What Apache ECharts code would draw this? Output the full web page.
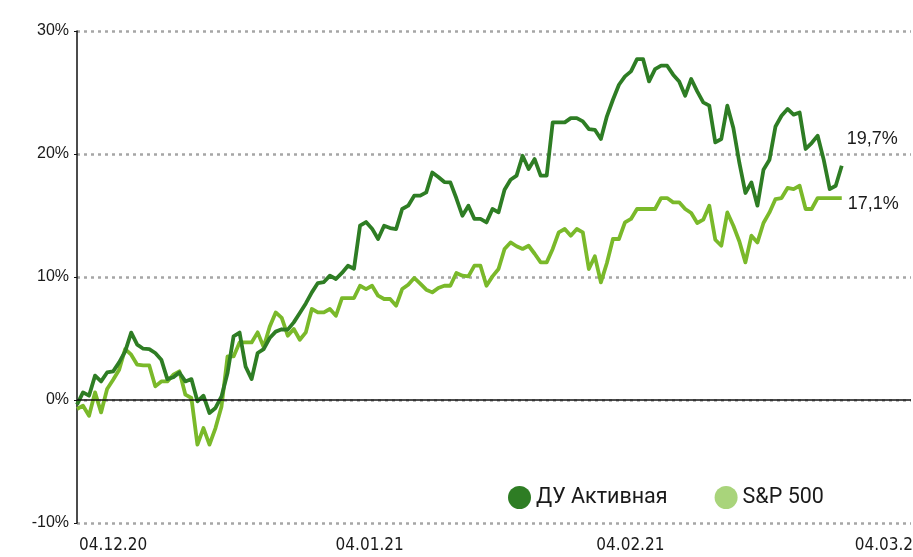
<!DOCTYPE html>
<html>
<head>
<meta charset="utf-8">
<script src="https://cdn.jsdelivr.net/npm/echarts@6/dist/echarts.min.js"></script>
<style>
  html, body { margin: 0; padding: 0; background: #fff; }
  #chart { width: 913px; height: 557px; }
</style>
</head>
<body>
<div id="chart"></div>
<script>
// доходность, % (точки графика по порядку)
var activeFund = [
  -0.38, 0.62, 0.35, 1.98, 1.51, 2.24, 2.33, 3.06, 3.95, 5.48,
  4.50, 4.17, 4.14, 3.82, 3.28, 1.70, 1.85, 2.24, 1.51, 1.70,
  -0.11, 0.35, -1.06, -0.65, 0.29, 2.19, 5.17, 5.48, 2.71, 1.70,
  3.82, 4.14, 5.04, 5.56, 5.75, 5.72, 6.31, 7.07, 7.85, 8.75,
  9.51, 9.59, 10.11, 9.84, 10.33, 10.92, 10.67, 14.17, 14.47, 13.93,
  13.09, 14.17, 13.98, 13.90, 15.53, 15.80, 16.61, 16.61, 16.88, 18.50,
  18.13, 17.72, 17.69, 16.40, 14.98, 15.80, 14.72, 14.72, 14.44, 15.53,
  15.26, 17.10, 17.91, 18.24, 19.86, 18.78, 19.59, 18.24, 18.24, 22.57,
  22.57, 22.57, 22.92, 22.92, 22.65, 22.03, 21.97, 21.22, 23.06, 24.41,
  25.63, 26.31, 26.72, 27.72, 27.72, 25.90, 26.90, 27.18, 27.18, 26.45,
  25.90, 24.74, 26.10, 25.09, 24.20, 23.93, 20.94, 21.22, 23.93, 22.11,
  19.27, 16.83, 17.69, 15.80, 18.72, 19.54, 22.24, 23.11, 23.66, 23.20,
  23.38, 20.41, 20.89, 21.49, 19.54, 17.15, 17.42, 19.05
];
var sp500 = [
  -0.73, -0.46, -1.28, 0.62, -1.01, 0.89, 1.65, 2.46, 4.14, 3.68,
  2.87, 2.81, 2.81, 1.11, 1.51, 1.51, 2.06, 2.33, 0.43, 0.16,
  -3.63, -2.28, -3.63, -2.28, -0.52, 3.54, 3.54, 4.68, 4.68, 4.68,
  5.50, 4.30, 5.95, 7.12, 6.67, 5.23, 5.77, 4.90, 5.50, 7.40,
  7.12, 7.12, 7.40, 6.85, 8.29, 8.29, 8.29, 9.29, 9.02, 9.29,
  8.48, 8.21, 8.21, 7.67, 9.02, 9.37, 9.92, 9.46, 8.97, 8.75,
  9.11, 9.29, 9.29, 10.33, 10.11, 10.05, 10.92, 10.92, 9.29, 10.05,
  10.65, 12.28, 12.81, 12.50, 12.28, 12.54, 11.89, 11.19, 11.19, 12.28,
  13.63, 13.90, 13.36, 13.90, 13.63, 10.65, 11.68, 9.56, 11.14, 13.09,
  13.09, 14.44, 14.72, 15.53, 15.53, 15.53, 15.53, 16.42, 16.42, 16.07,
  16.07, 15.53, 15.20, 14.39, 14.66, 15.80, 13.03, 12.54, 15.25, 14.17,
  12.89, 11.19, 13.36, 12.81, 14.39, 15.25, 16.34, 16.42, 17.24, 17.15,
  17.42, 15.53, 15.53, 16.42, 16.42, 16.42, 16.42, 16.42
];
var seriesNames = ['ДУ Активная', 'S&P 500'];
var endLabels = ['19,7%', '17,1%'];
// подписи дат и их положение на оси (номер точки)
var dateTicks = [6, 48.6, 91.9, 134.8];
var dateLabels = ['04.12.20', '04.01.21', '04.02.21', '04.03.21'];

function toPoints(arr) {
    var out = [];
    for (var i = 0; i < arr.length; i++) {
        out.push([i, arr[i]]);
    }
    return out;
}

var myChart = echarts.init(document.getElementById('chart'));

var option = {
    animation: false,
    grid: {left: 77, right: 2, top: 31, bottom: 34, outerBoundsMode: 'none', containLabel: false},
    legend: {
        left: 503,
        top: 481,
        icon: 'circle',
        itemWidth: 23,
        itemHeight: 23,
        itemGap: 47,
        textStyle: {fontFamily: 'Roboto', fontSize: 21.5, color: '#1a1a1a'},
        data: [
            {name: seriesNames[0], itemStyle: {color: '#2e7d24'}},
            {name: seriesNames[1], itemStyle: {color: '#a9d47b'}}
        ]
    },
    xAxis: {
        type: 'value',
        min: 0,
        max: 138.5,
        axisLine: {show: false},
        axisTick: {show: false},
        splitLine: {show: false},
        axisLabel: {
            customValues: dateTicks,
            margin: 14,
            fontFamily: '"DejaVu Sans Condensed", "Liberation Sans", sans-serif',
            fontSize: 17,
            color: '#1a1a1a',
            formatter: function (val) {
                for (var i = 0; i < dateTicks.length; i++) {
                    if (Math.abs(dateTicks[i] - val) < 0.01) return dateLabels[i];
                }
                return '';
            }
        }
    },
    yAxis: {
        type: 'value',
        min: -10,
        max: 30,
        interval: 10,
        axisLine: {show: true, lineStyle: {color: '#111', width: 1.5}},
        axisTick: {show: true, length: 3, lineStyle: {color: '#111'}},
        axisLabel: {
            margin: 8,
            fontFamily: 'Liberation Sans',
            fontSize: 16,
            color: '#1a1a1a',
            formatter: '{value}%'
        },
        splitLine: {
            show: true,
            lineStyle: {color: '#a6a6a6', type: [3, 4], width: 2.5}
        }
    },
    series: [
        {
            // линия нуля
            type: 'line',
            data: [],
            z: 1,
            silent: true,
            markLine: {
                silent: true,
                symbol: 'none',
                label: {show: false},
                lineStyle: {color: '#111', type: 'solid', width: 1.5},
                data: [{yAxis: 0}]
            }
        },
        {
            name: seriesNames[0],
            type: 'line',
            data: toPoints(activeFund),
            showSymbol: false,
            symbol: 'none',
            z: 4,
            lineStyle: {color: '#2e7d24', width: 3.8, join: 'round'},
            itemStyle: {color: '#2e7d24'},
            endLabel: {
                show: true,
                formatter: endLabels[0],
                offset: [-3, -27],
                fontFamily: 'Liberation Sans',
                fontSize: 18,
                color: '#1a1a1a'
            }
        },
        {
            name: seriesNames[1],
            type: 'line',
            data: toPoints(sp500),
            showSymbol: false,
            symbol: 'none',
            z: 3,
            lineStyle: {color: '#7ab92a', width: 3.8, join: 'round'},
            itemStyle: {color: '#7ab92a'},
            endLabel: {
                show: true,
                formatter: endLabels[1],
                offset: [-2, 6],
                fontFamily: 'Liberation Sans',
                fontSize: 18,
                color: '#1a1a1a'
            }
        }
    ]
};
myChart.setOption(option);
</script>
</body>
</html>
